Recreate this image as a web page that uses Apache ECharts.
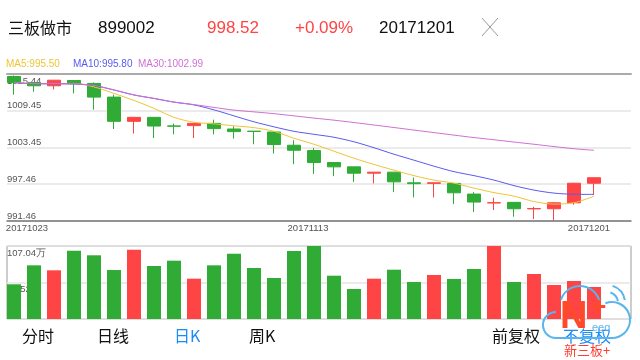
<!DOCTYPE html>
<html><head><meta charset="utf-8">
<script src="https://cdn.jsdelivr.net/npm/echarts@6/dist/echarts.min.js"></script>
<style>html,body{margin:0;padding:0;background:#fff}#c{width:640px;height:360px}</style>
</head><body><div id="c"></div>
<script>
const dates = ['20171023','20171024','20171025','20171026','20171027','20171030','20171031','20171101','20171102','20171103',
  '20171106','20171107','20171108','20171109','20171110','20171113','20171114','20171115','20171116','20171117',
  '20171120','20171121','20171122','20171123','20171124','20171127','20171128','20171129','20171130','20171201'];
const opens  = [1015.03,1014.06,1013.52,1014.38,1013.90,1011.67,1007.72,1008.37,1006.97,1007.02,
  1007.39,1006.47,1006.11,1005.98,1003.82,1002.95,1001.00,1000.29,999.26,999.43,
  997.69,997.60,997.59,995.85,994.40,994.50,993.44,993.46,994.43,997.62];
const closes = [1014.06,1013.52,1014.43,1013.85,1011.67,1007.72,1008.37,1006.95,1006.93,1007.39,
  1006.53,1006.04,1006.07,1003.93,1003.00,1001.00,1000.29,999.26,999.43,997.85,
  997.55,997.69,996.06,994.55,994.45,993.46,993.50,994.43,997.62,998.52];
const lows   = [1012.06,1012.55,1012.92,1012.27,1009.62,1006.47,1005.72,1005.00,1005.60,1005.00,
  1005.60,1004.90,1003.98,1002.47,1000.73,999.15,998.78,997.85,997.59,996.17,
  995.31,995.31,994.22,992.92,993.25,992.16,991.78,991.50,994.11,995.74];
const highs  = [1015.20,1014.06,1014.43,1014.38,1014.06,1012.06,1008.37,1008.37,1007.34,1007.39,
  1007.99,1006.90,1006.11,1006.09,1004.63,1003.38,1001.00,1000.29,999.43,999.43,
  998.56,997.69,997.59,996.17,995.25,994.50,993.78,994.55,997.70,998.52];
const ma5  = [1014.06,1013.90,1013.90,1013.90,1013.33,1012.27,1011.13,1009.83,1008.37,1007.56,
  1007.31,1006.99,1006.69,1006.09,1004.95,1003.98,1002.84,1001.70,1000.68,999.75,
  998.86,998.13,997.64,996.82,996.09,995.52,994.63,994.22,994.44,995.50];
const ma10 = [1014.05,1013.84,1013.84,1013.81,1013.56,1012.83,1012.02,1011.45,1010.85,1010.40,
  1009.59,1008.61,1007.64,1006.82,1006.09,1005.60,1005.12,1004.38,1003.41,1002.35,
  1001.38,1000.40,999.51,998.86,998.13,997.23,996.50,996.01,995.82,995.80];
const ma30 = [1014.06,1013.85,1013.85,1013.82,1013.57,1012.84,1012.03,1011.46,1010.86,1010.45,
  1009.99,1009.55,1009.26,1008.97,1008.61,1008.25,1007.91,1007.52,1007.12,1006.71,
  1006.29,1005.88,1005.47,1005.07,1004.71,1004.34,1003.98,1003.60,1003.25,1002.99];
const volumes = [50.9,78.7,71.4,100.2,93.4,71.8,101.6,77.7,85.5,59.1,
  78.7,95.8,74.8,60.1,99.7,107.04,63.5,44.0,59.1,72.3,
  54.3,64.5,58.7,73.3,107.04,54.3,66.0,49.9,55.7,46.9];
const priceTicks = [991.46, 997.46, 1003.45, 1009.45, 1015.44];
const volumeTicks = [0, 53.52, 107.04];
const xLabelIdx = [0, 15, 29];
const xLabelPos = [0.65, 14.7, 28.75];
const stockName = '三板做市';
const stockCode = '899002';
const lastPrice = '998.52';
const lastChange = '+0.09%';
const lastDate = '20171201';
const tabsLeft = ['分时', '日线', '日K', '周K'];
const tabsRight = ['前复权', '不复权'];

const RED = '#fe4444', GREEN = '#30ab35';
const C5 = '#eec635', C10 = '#5a5af2', C30 = '#d070d4';
const NUMF = '"Liberation Sans", Arial, sans-serif';
const CJKF = '"Noto Sans CJK SC", sans-serif';

const candleData = dates.map((d, i) => [i, opens[i], closes[i], lows[i], highs[i]]);
const volData = dates.map((d, i) => ({ value: [i, volumes[i]], itemStyle: { color: closes[i] >= opens[i] ? RED : GREEN } }));
const toLine = arr => arr.map((v, i) => [i, v]);

const chart = echarts.init(document.getElementById('c'), null, { renderer: 'canvas' });
const xmin = -0.35, xmax = 30.85;
function txt(x, y, text, size, color, family, extra, weight) {
  return Object.assign({ type: 'text', x: x, y: y, z: 100,
    style: { text: text, fontSize: size, fontFamily: family, fontWeight: weight || 'normal', fill: color, verticalAlign: 'middle' } }, extra || {});
}
const tabX = [22, 97, 174, 249];
const graphics = [
  txt(8, 28, stockName, 16, '#111', CJKF),
  txt(98, 28, stockCode, 17, '#111', NUMF),
  txt(207, 28, lastPrice, 17, RED, NUMF),
  txt(295, 28, lastChange, 17, RED, NUMF),
  txt(379, 28, lastDate, 17, '#111', NUMF),
  { type: 'line', shape: { x1: 482, y1: 18, x2: 498, y2: 36 }, style: { stroke: '#999', lineWidth: 1 } },
  { type: 'line', shape: { x1: 498, y1: 18, x2: 482, y2: 36 }, style: { stroke: '#999', lineWidth: 1 } },
  txt(6, 64, 'MA5:' + ma5[ma5.length - 1].toFixed(2), 10, C5, NUMF),
  txt(73, 64, 'MA10:' + ma10[ma10.length - 1].toFixed(2), 10, C10, NUMF),
  txt(138, 64, 'MA30:' + ma30[ma30.length - 1].toFixed(2), 10, C30, NUMF)
];
tabsLeft.forEach((t, i) => graphics.push(txt(tabX[i], 336, t, 16, i === 2 ? '#1a8cf5' : '#111', CJKF)));
graphics.push(txt(492, 336, tabsRight[0], 16, '#111', CJKF));
graphics.push(txt(563, 336, tabsRight[1], 16, '#1a8cf5', CJKF));
graphics.push(txt(564, 350, '新三板+', 13, '#ff3b30', CJKF));
// watermark logo
const WB = '#5ab4ee';
graphics.push(
  { type: 'arc', z: 110, shape: { cx: 556, cy: 325, r: 13, startAngle: Math.PI / 2, endAngle: Math.PI * 1.5, clockwise: true }, style: { stroke: WB, lineWidth: 2, fill: null } },
  { type: 'arc', z: 110, shape: { cx: 580, cy: 306, r: 20, startAngle: Math.PI * 1.1, endAngle: Math.PI * 1.92, clockwise: true }, style: { stroke: WB, lineWidth: 2, fill: null } },
  { type: 'arc', z: 110, shape: { cx: 612, cy: 320, r: 18, startAngle: -Math.PI * 0.62, endAngle: Math.PI / 2, clockwise: true }, style: { stroke: WB, lineWidth: 2, fill: null } },
  { type: 'line', z: 110, shape: { x1: 556, y1: 338, x2: 612, y2: 338 }, style: { stroke: WB, lineWidth: 2 } },
  { type: 'arc', z: 110, shape: { cx: 607, cy: 303, r: 11, startAngle: -Math.PI * 0.4, endAngle: -Math.PI * 0.05, clockwise: true }, style: { stroke: WB, lineWidth: 2, fill: null } },
  { type: 'arc', z: 110, shape: { cx: 607, cy: 303, r: 18, startAngle: -Math.PI * 0.4, endAngle: -Math.PI * 0.05, clockwise: true }, style: { stroke: WB, lineWidth: 2, fill: null } },
  txt(560, 318, 'N', 38, '#ff4a2a', NUMF, { z: 111 }, 'bold'),
  txt(590, 308, '+', 28, '#ff4a2a', NUMF, { z: 111 }, 'bold'),
  txt(592, 328, 'eeq', 11, WB, NUMF, { z: 111 })
);

chart.setOption({
  animation: false,
  backgroundColor: '#fff',
  grid: [
    { left: 7, right: 9, top: 74, height: 147 },
    { left: 7, right: 9, top: 246, height: 73, show: true, borderColor: '#9a9a9a', borderWidth: 1 }
  ],
  xAxis: [
    { type: 'value', gridIndex: 0, min: xmin, max: xmax, position: 'bottom',
      axisLine: { onZero: false, lineStyle: { color: '#777', width: 1.5 } },
      axisTick: { show: false }, splitLine: { show: false },
      axisLabel: { customValues: xLabelPos, margin: 2, fontSize: 9.5, fontFamily: NUMF, color: '#555',
        formatter: v => { let best = 0; xLabelPos.forEach((p, k) => { if (Math.abs(p - v) < Math.abs(xLabelPos[best] - v)) best = k; }); return dates[xLabelIdx[best]]; } } },
    { type: 'value', gridIndex: 0, min: xmin, max: xmax, position: 'top',
      axisLine: { onZero: false, lineStyle: { color: '#aaa', width: 2 } },
      axisTick: { show: false }, splitLine: { show: false }, axisLabel: { show: false } },
    { type: 'value', gridIndex: 1, min: xmin, max: xmax, show: false, splitLine: { show: false } }
  ],
  yAxis: [
    { type: 'value', gridIndex: 0, min: priceTicks[0], max: priceTicks[4], position: 'left',
      axisLine: { show: false }, axisTick: { show: false, customValues: priceTicks },
      splitLine: { lineStyle: { color: '#e4e4e4', width: 1.5 } },
      axisLabel: { inside: true, margin: 0, customValues: priceTicks.slice(0, 4), verticalAlign: 'bottom',
        fontSize: 9.5, fontFamily: NUMF, color: '#555', formatter: v => v.toFixed(2) } },
    { type: 'value', gridIndex: 0, min: priceTicks[0], max: priceTicks[4], position: 'left',
      axisLine: { show: false }, axisTick: { show: false, customValues: [priceTicks[4]] }, splitLine: { show: false },
      axisLabel: { inside: true, margin: 0, customValues: [priceTicks[4]], verticalAlign: 'top', padding: [2, 0, 0, 0],
        fontSize: 9.5, fontFamily: NUMF, color: '#555', formatter: v => v.toFixed(2) } },
    { type: 'value', gridIndex: 1, min: volumeTicks[0], max: volumeTicks[2], position: 'left',
      axisLine: { show: false }, axisTick: { show: false, customValues: volumeTicks },
      splitLine: { lineStyle: { color: '#e4e4e4', width: 1.5 } },
      axisLabel: { inside: true, margin: 0, customValues: volumeTicks, verticalAlign: 'top', padding: [2, 0, 0, 0],
        fontSize: 9.5, fontFamily: NUMF, color: '#555', formatter: v => v === 0 ? '' : v.toFixed(2) + '万' } }
  ],
  series: [
    { type: 'candlestick', xAxisIndex: 0, yAxisIndex: 0, barWidth: 14, data: candleData,
      itemStyle: { color: RED, color0: GREEN, borderColor: RED, borderColor0: GREEN, borderWidth: 1 } },
    { type: 'line', xAxisIndex: 0, yAxisIndex: 0, data: toLine(ma5), symbol: 'none', smooth: 0.3, lineStyle: { color: C5, width: 1 }, z: 3 },
    { type: 'line', xAxisIndex: 0, yAxisIndex: 0, data: toLine(ma10), symbol: 'none', smooth: 0.3, lineStyle: { color: C10, width: 1 }, z: 3 },
    { type: 'line', xAxisIndex: 0, yAxisIndex: 0, data: toLine(ma30), symbol: 'none', smooth: 0.3, lineStyle: { color: C30, width: 1 }, z: 3 },
    { type: 'bar', xAxisIndex: 2, yAxisIndex: 2, barWidth: 14, data: volData }
  ],
  graphic: { elements: graphics }
});
</script></body></html>
